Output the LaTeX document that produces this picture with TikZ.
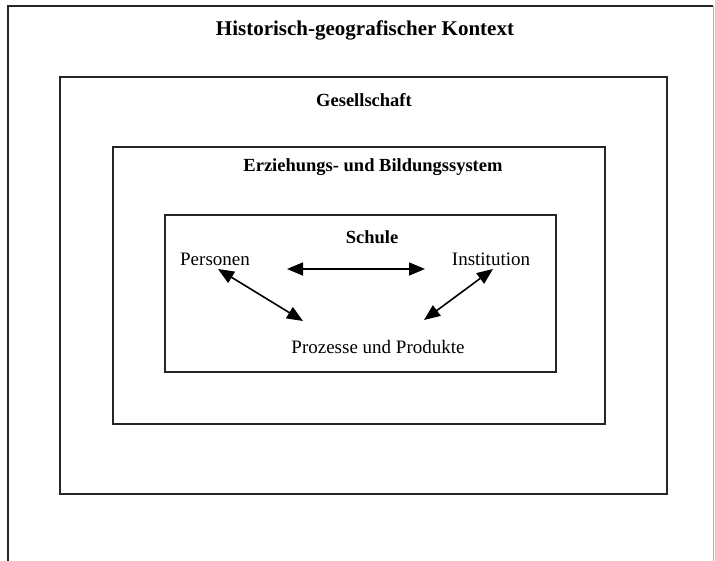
\documentclass[tikz,border=0pt]{standalone}
\usepackage{fontspec}
\setmainfont{Liberation Serif}
\usetikzlibrary{arrows.meta}

\begin{document}
\begin{tikzpicture}[x=1pt,y=-1pt,
		box/.style={line width=1.3pt,draw=black!85},
		head/.style={font=\fontsize{21}{24}\selectfont\bfseries},
		ttl/.style={font=\fontsize{18.5}{21}\selectfont\bfseries},
		lab/.style={font=\fontsize{19}{21}\selectfont},
		dbl/.style={{Triangle[length=16pt,width=13pt]}-{Triangle[length=16pt,width=13pt]},line width=1.6pt}]
		
		\useasboundingbox (0,0) rectangle (715,561);
		% outer frame, open at the bottom
		\draw[box] (8,561) -- (8,6) -- (713,6);
		\draw[thin,black!30] (713,6) -- (713,561);
		\foreach \l/\t/\r/\b in {60/77/667/494,113/147/605/424,165/215/556/372}
		\draw[box] (\l,\t) rectangle (\r,\b);
		
		\node[head] (kontext) at (365,30) {Historisch-geografischer Kontext};
		\node[ttl] (ges) at (364,100) {Gesellschaft};
		\node[ttl] (bild) at (373,167) {Erziehungs- und Bildungssystem};
		\node[ttl] (schule) at (372,237) {Schule};
		\node[lab] (pers) at (215,259) {Personen};
		\node[lab] (inst) at (491,259) {Institution};
		\node[lab] (prod) at (378,347) {Prozesse und Produkte};
		
		\coordinate (pr) at (287,269);
		\coordinate (il) at (425,269);
		\coordinate (pd) at (218,269);
		\coordinate (dl) at (303,321);
		\coordinate (id) at (493,269);
		\coordinate (dr) at (424,320);
		\draw[dbl] (pr) -- (il);
		\draw[dbl] (pd) -- (dl);
		\draw[dbl] (id) -- (dr);
		
		\end{tikzpicture}
\end{document}
